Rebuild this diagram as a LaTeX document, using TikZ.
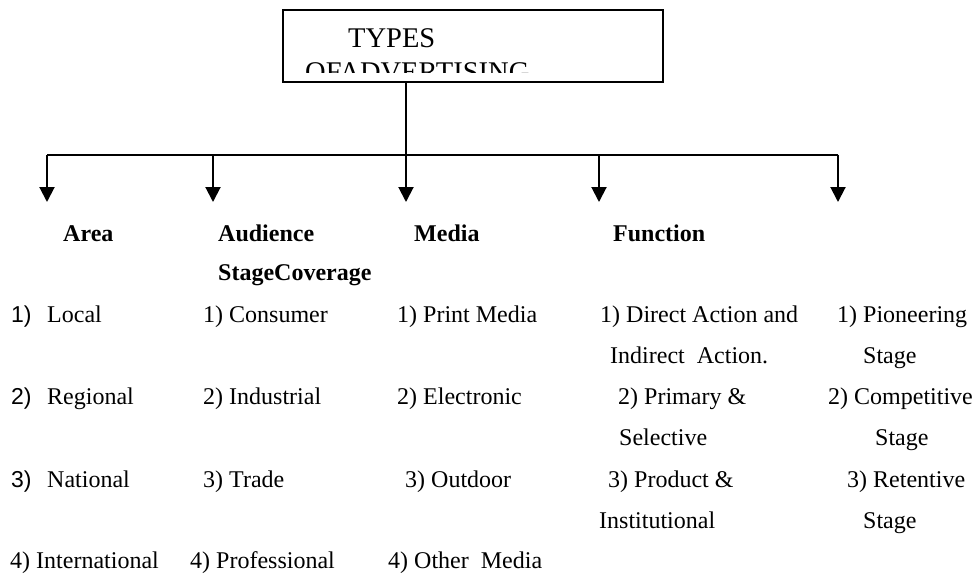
\documentclass[tikz,border=0pt]{standalone}
\usepackage{fontspec}
\setmainfont{Liberation Serif}
\newfontfamily\arialfont{Liberation Sans}
\usetikzlibrary{arrows.meta}
\begin{document}
\begin{tikzpicture}[x=1pt,y=-1pt,
  line/.style={line width=2pt},
  arr/.style={line width=2pt,-{Triangle[length=15pt,width=15pt]}},
  txt/.style={anchor=base west,inner sep=0pt,font=\fontsize{24}{28}\selectfont},
  hd/.style={anchor=base west,inner sep=0pt,font=\bfseries\fontsize{24}{28}\selectfont},
  num/.style={anchor=base west,inner sep=0pt,font=\arialfont\fontsize{23}{27}\selectfont},
  ttl/.style={anchor=base west,inner sep=0pt,font=\fontsize{28.5}{32}\selectfont}]
\useasboundingbox[fill=white] (0,0) rectangle (974,574);

% title box
\node[draw,line width=2pt,minimum width=380pt,minimum height=72pt,inner sep=0pt] (box) at (473,46) {};
\node[ttl] (t1) at (348,47) {TYPES};
\begin{scope}
  \clip (283,10) rectangle (663,72);
  \node[ttl] (t2) at (305,81) {OFADVERTISING};
\end{scope}

% connectors
\coordinate (hub) at (406,154.5);
\coordinate (j1) at (47,154.5);
\coordinate (j2) at (213,154.5);
\coordinate (j3) at (406,154.5);
\coordinate (j4) at (599,154.5);
\coordinate (j5) at (838,154.5);
\coordinate (e1) at (47,202);
\coordinate (e2) at (213,202);
\coordinate (e3) at (406,202);
\coordinate (e4) at (599,202);
\coordinate (e5) at (838,202);
\draw[line] (box.south -| hub) -- (hub);
\draw[line] (j1) -- (j5);
\draw[arr] (j1) -- (e1);
\draw[arr] (j2) -- (e2);
\draw[arr] (j3) -- (e3);
\draw[arr] (j4) -- (e4);
\draw[arr] (j5) -- (e5);

% headings
\node[hd] (h1) at (63,241) {Area};
\node[hd] (h2) at (218,241) {Audience};
\node[hd] (h2b) at (218,280) {StageCoverage};
\node[hd] (h3) at (414,241) {Media};
\node[hd] (h4) at (613,241) {Function};

% column 1
\node[num] (n11) at (11,322) {1)};
\node[txt] (c11) at (47,322) {Local};
\node[num] (n12) at (11,404) {2)};
\node[txt] (c12) at (47,404) {Regional};
\node[num] (n13) at (11,487) {3)};
\node[txt] (c13) at (47,487) {National};
\node[txt] (c14) at (10,568) {4) International};

% column 2
\node[txt] (c21) at (203,322) {1) Consumer};
\node[txt] (c22) at (203,404) {2) Industrial};
\node[txt] (c23) at (203,487) {3) Trade};
\node[txt] (c24) at (190,568) {4) Professional};

% column 3
\node[txt] (c31) at (397,322) {1) Print Media};
\node[txt] (c32) at (397,404) {2) Electronic};
\node[txt] (c33) at (405,487) {3) Outdoor};
\node[txt] (c34) at (388,568) {4) Other\ \ Media};

% column 4
\node[txt] (c41) at (600,322) {1) Direct Action and};
\node[txt] (c41b) at (610,363) {Indirect\ \ Action.};
\node[txt] (c42) at (618,404) {2) Primary \&};
\node[txt] (c42b) at (619,445) {Selective};
\node[txt] (c43) at (608,487) {3) Product \&};
\node[txt] (c43b) at (599,528) {Institutional};

% column 5
\node[txt] (c51) at (837,322) {1) Pioneering};
\node[txt] (c51b) at (863,363) {Stage};
\node[txt] (c52) at (828,404) {2) Competitive};
\node[txt] (c52b) at (875,445) {Stage};
\node[txt] (c53) at (847,487) {3) Retentive};
\node[txt] (c53b) at (863,528) {Stage};
\end{tikzpicture}
\end{document}
